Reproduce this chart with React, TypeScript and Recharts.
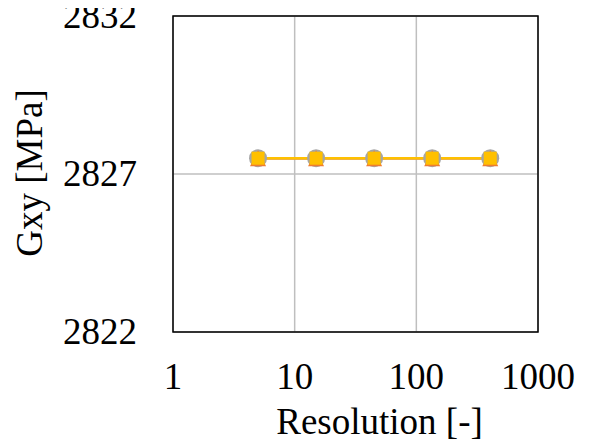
import { LineChart, Line, XAxis, YAxis, CartesianGrid, ReferenceArea } from "recharts";

const resolutions = [5, 15, 45, 135, 405];
const grayValues = [2827.5, 2827.5, 2827.5, 2827.5, 2827.5];
const orangeValues = [2827.5, 2827.5, 2827.5, 2827.5, 2827.5];
const yellowValues = [2827.5, 2827.5, 2827.5, 2827.5, 2827.5];
const xTicks = [1, 10, 100, 1000];
const yTicks = [2822, 2827, 2832];

const data = resolutions.map((r, i) => ({
  res: r,
  gray: grayValues[i],
  orange: orangeValues[i],
  yellow: yellowValues[i],
}));

const FONT = "Liberation Serif, Times New Roman, serif";
const SIZE = 37;

const XTick = (props: any) => {
  const { x, y, payload } = props;
  return (
    <text x={x} y={y} dy={SIZE * 0.71} textAnchor="middle" fontFamily={FONT} fontSize={SIZE} fill="#000">
      {payload.value}
    </text>
  );
};

const YTick = (props: any) => {
  const { x, y, payload } = props;
  return (
    <text x={x} y={y} dy={SIZE * 0.33} textAnchor="end" fontFamily={FONT} fontSize={SIZE} fill="#000">
      {payload.value}
    </text>
  );
};

const XLabel = (props: any) => {
  const { viewBox } = props;
  const cx = viewBox.x + viewBox.width / 2 + 24;
  return (
    <text x={cx} y={434} textAnchor="middle" fontFamily={FONT} fontSize={SIZE} fill="#000">
      Resolution [-]
    </text>
  );
};

const YLabel = (props: any) => {
  const { viewBox } = props;
  const cy = viewBox.y + viewBox.height / 2 - 1;
  const cx = 42;
  return (
    <text
      x={cx}
      y={cy}
      transform={`rotate(-90 ${cx} ${cy})`}
      textAnchor="middle"
      fontFamily={FONT}
      fontSize={SIZE}
      fill="#000"
    >
      Gxy [MPa]
    </text>
  );
};

const CircleDot = (props: any) => {
  const { cx, cy, index } = props;
  return <circle key={`c${index}`} cx={cx} cy={cy} r={9} fill="#a5a5a5" />;
};

const TriangleDot = (props: any) => {
  const { cx, cy, index } = props;
  const s = 8;
  return (
    <polygon
      key={`t${index}`}
      points={`${cx},${cy - s} ${cx + s},${cy + s} ${cx - s},${cy + s}`}
      fill="#ed7d31"
    />
  );
};

const SquareDot = (props: any) => {
  const { cx, cy, index } = props;
  return <rect key={`s${index}`} x={cx - 6.5} y={cy - 6.5} width={13} height={13} fill="#ffc000" />;
};

export default function App() {
  return (
    <div style={{ margin: -8, width: 602, height: 447 }}>
      <LineChart width={602} height={447} data={data} margin={{ top: 16, right: 64, left: 0, bottom: 0 }}>
        <CartesianGrid stroke="#bfbfbf" strokeWidth={1.5} />
        <XAxis
          dataKey="res"
          type="number"
          scale="log"
          domain={[1, 1000]}
          ticks={xTicks}
          allowDataOverflow
          height={115}
          tickLine={false}
          axisLine={false}
          tickSize={0}
          tickMargin={31}
          tick={XTick}
          interval={0}
          label={XLabel}
        />
        <YAxis
          type="number"
          domain={[2822, 2832]}
          ticks={yTicks}
          width={173}
          tickLine={false}
          axisLine={false}
          tickSize={0}
          tickMargin={36}
          tick={YTick}
          interval={0}
          label={YLabel}
        />
        <ReferenceArea x1={1} x2={1000} y1={2822} y2={2832} fill="none" stroke="#000" strokeWidth={1.5} fillOpacity={0} />
        <Line dataKey="gray" stroke="#a5a5a5" strokeWidth={2.5} dot={CircleDot} isAnimationActive={false} />
        <Line dataKey="orange" stroke="#ed7d31" strokeWidth={2.5} dot={TriangleDot} isAnimationActive={false} />
        <Line dataKey="yellow" stroke="#ffc000" strokeWidth={2.5} dot={SquareDot} isAnimationActive={false} />
      </LineChart>
    </div>
  );
}
